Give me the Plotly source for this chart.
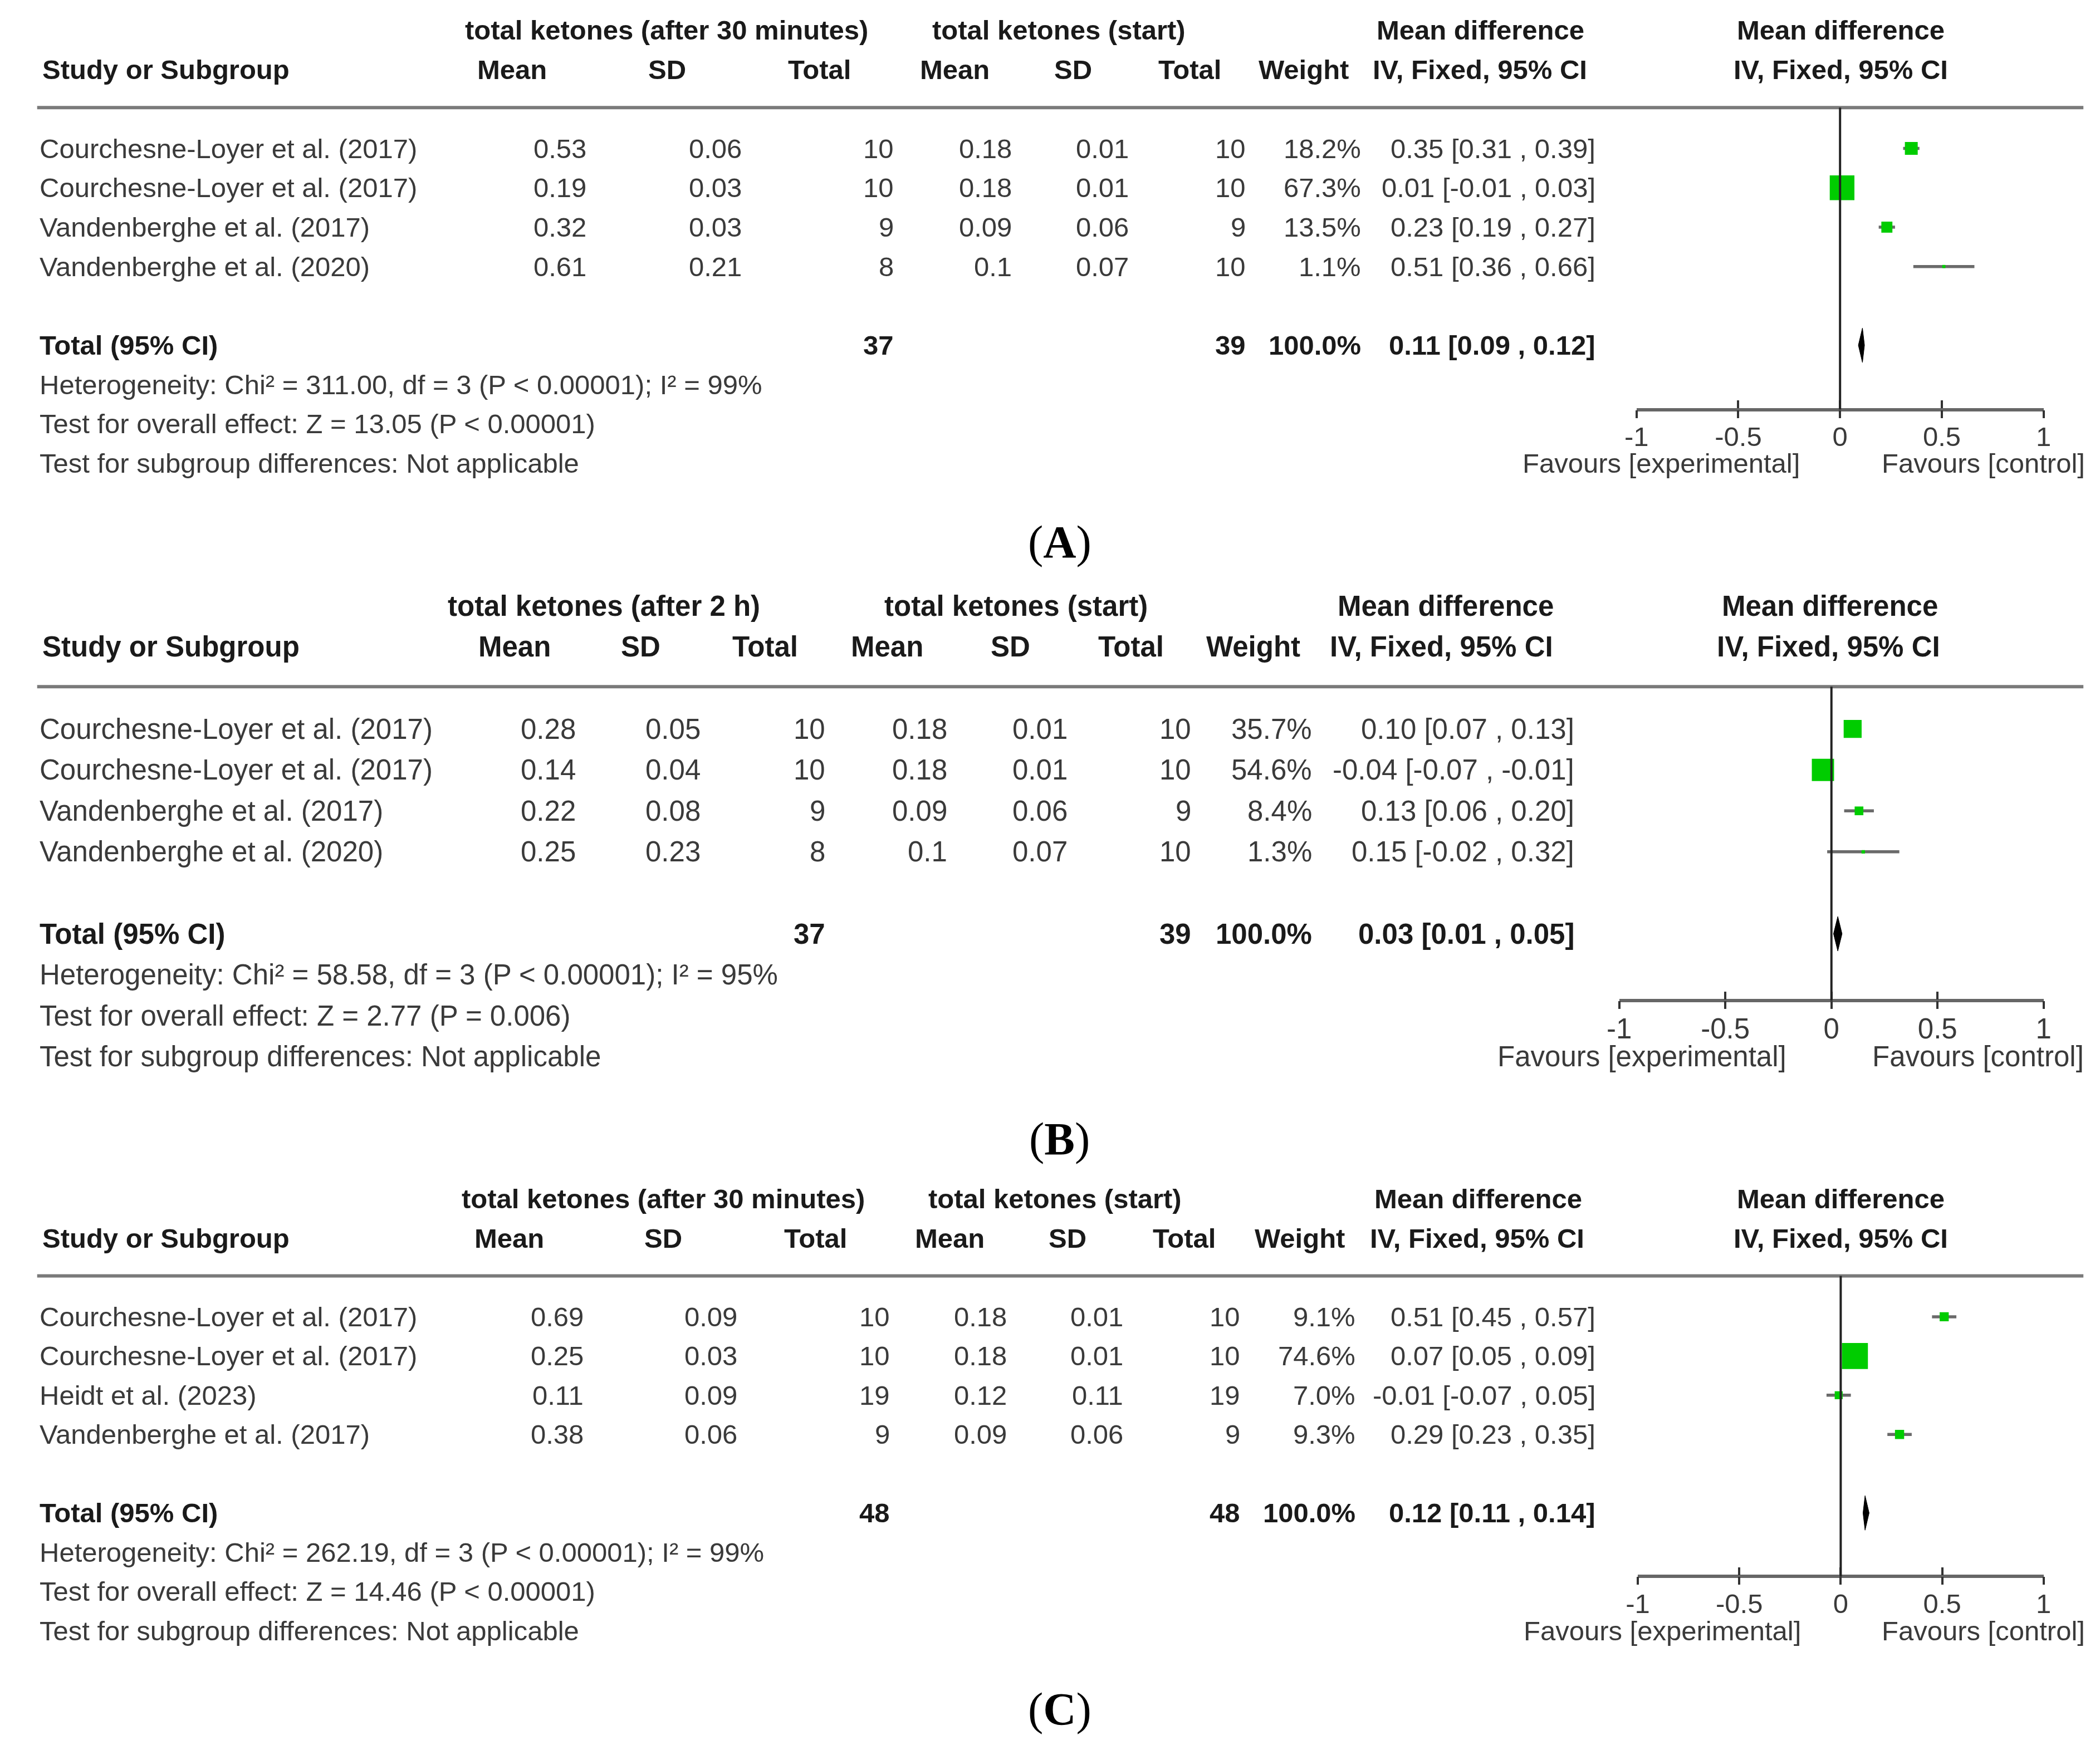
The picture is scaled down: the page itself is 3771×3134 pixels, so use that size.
import plotly.graph_objects as go

W, H = 3771, 3134
S = W / 1568.0          # reference measured on a 1568-px-wide view
FONT = "Liberation Sans, Arial, sans-serif"
TXT = "#3a3a3a"
BOLD = "#1a1a1a"

# ---------------- data ----------------
A_head = ["total ketones (after 30 minutes)", "total ketones (start)"]
A_studies = ["Courchesne-Loyer et al. (2017)", "Courchesne-Loyer et al. (2017)",
             "Vandenberghe et al. (2017)", "Vandenberghe et al. (2020)"]
A_exp_mean = [0.53, 0.19, 0.32, 0.61]
A_exp_sd = [0.06, 0.03, 0.03, 0.21]
A_exp_n = [10, 10, 9, 8]
A_ctl_mean = [0.18, 0.18, 0.09, 0.1]
A_ctl_sd = [0.01, 0.01, 0.06, 0.07]
A_ctl_n = [10, 10, 9, 10]
A_weight = [18.2, 67.3, 13.5, 1.1]
A_md = [0.35, 0.01, 0.23, 0.51]
A_lo = [0.31, -0.01, 0.19, 0.36]
A_hi = [0.39, 0.03, 0.27, 0.66]
A_total = [37, 39, 100.0, 0.11, 0.09, 0.12]
A_notes = ["Heterogeneity: Chi\u00b2 = 311.00, df = 3 (P < 0.00001); I\u00b2 = 99%",
           "Test for overall effect: Z = 13.05 (P < 0.00001)",
           "Test for subgroup differences: Not applicable"]

B_head = ["total ketones (after 2 h)", "total ketones (start)"]
B_studies = ["Courchesne-Loyer et al. (2017)", "Courchesne-Loyer et al. (2017)",
             "Vandenberghe et al. (2017)", "Vandenberghe et al. (2020)"]
B_exp_mean = [0.28, 0.14, 0.22, 0.25]
B_exp_sd = [0.05, 0.04, 0.08, 0.23]
B_exp_n = [10, 10, 9, 8]
B_ctl_mean = [0.18, 0.18, 0.09, 0.1]
B_ctl_sd = [0.01, 0.01, 0.06, 0.07]
B_ctl_n = [10, 10, 9, 10]
B_weight = [35.7, 54.6, 8.4, 1.3]
B_md = [0.10, -0.04, 0.13, 0.15]
B_lo = [0.07, -0.07, 0.06, -0.02]
B_hi = [0.13, -0.01, 0.20, 0.32]
B_total = [37, 39, 100.0, 0.03, 0.01, 0.05]
B_notes = ["Heterogeneity: Chi\u00b2 = 58.58, df = 3 (P < 0.00001); I\u00b2 = 95%",
           "Test for overall effect: Z = 2.77 (P = 0.006)",
           "Test for subgroup differences: Not applicable"]

C_head = ["total ketones (after 30 minutes)", "total ketones (start)"]
C_studies = ["Courchesne-Loyer et al. (2017)", "Courchesne-Loyer et al. (2017)",
             "Heidt et al. (2023)", "Vandenberghe et al. (2017)"]
C_exp_mean = [0.69, 0.25, 0.11, 0.38]
C_exp_sd = [0.09, 0.03, 0.09, 0.06]
C_exp_n = [10, 10, 19, 9]
C_ctl_mean = [0.18, 0.18, 0.12, 0.09]
C_ctl_sd = [0.01, 0.01, 0.11, 0.06]
C_ctl_n = [10, 10, 19, 9]
C_weight = [9.1, 74.6, 7.0, 9.3]
C_md = [0.51, 0.07, -0.01, 0.29]
C_lo = [0.45, 0.05, -0.07, 0.23]
C_hi = [0.57, 0.09, 0.05, 0.35]
C_total = [48, 48, 100.0, 0.12, 0.11, 0.14]
C_notes = ["Heterogeneity: Chi\u00b2 = 262.19, df = 3 (P < 0.00001); I\u00b2 = 99%",
           "Test for overall effect: Z = 14.46 (P < 0.00001)",
           "Test for subgroup differences: Not applicable"]

tick_vals = [-1, -0.5, 0, 0.5, 1]
tick_text = ["-1", "-0.5", "0", "0.5", "1"]
favours = ["Favours [experimental]", "Favours [control]"]
labels = ["A", "B", "C"]

# ---------------- layout geometry (px in 1568-wide view) ----------------
geoms = [
    dict(row0=107.5, sp=29.4, line=77, axis=302.5, fx=(1221, 1528), fs=49,
         vals=[430, 547, 662, 751, 839, 927, 1014, 1191],
         h2=[373, 490, 605, 707, 796, 884, 970, 1103, 1375],
         h1=[489.5, 785.5, 1103.5, 1375], fav=(1345, 1405), lab=786),
    dict(row0=541, sp=30.6, line=509.5, axis=744, fx=(1208, 1528), fs=51,
         vals=[422, 516, 610, 702, 793, 886, 977, 1175],
         h2=[375, 470, 564, 656, 749, 840, 932, 1074, 1366],
         h1=[442.5, 753, 1077, 1367], fav=(1335, 1398), lab=786),
    dict(row0=980, sp=29.3, line=949.5, axis=1174, fx=(1222, 1528), fs=49,
         vals=[428, 544, 659, 747, 835, 923, 1010, 1191],
         h2=[371, 487, 602, 703, 792, 880, 967, 1101, 1375],
         h1=[487, 782.5, 1101.5, 1375], fav=(1346, 1405), lab=786),
]
ROW_TOP, ROW_BOT = -3.6, 10.6

panels = [
    (A_head, A_studies, A_exp_mean, A_exp_sd, A_exp_n, A_ctl_mean, A_ctl_sd, A_ctl_n,
     A_weight, A_md, A_lo, A_hi, A_total, A_notes),
    (B_head, B_studies, B_exp_mean, B_exp_sd, B_exp_n, B_ctl_mean, B_ctl_sd, B_ctl_n,
     B_weight, B_md, B_lo, B_hi, B_total, B_notes),
    (C_head, C_studies, C_exp_mean, C_exp_sd, C_exp_n, C_ctl_mean, C_ctl_sd, C_ctl_n,
     C_weight, C_md, C_lo, C_hi, C_total, C_notes),
]


def num(v):
    return f"{v:g}"


def ci(m, l, h):
    return f"{m:.2f} [{l:.2f} , {h:.2f}]"


fig = go.Figure()
annotations = []
shapes = []
layout = {}

for i, (p, g) in enumerate(zip(panels, geoms)):
    (head, studies, em, esd, en, cm, csd, cn, wt, md, lo, hi, tot, notes) = p
    xa = "x" if i == 0 else f"x{2 * i + 1}"
    xo = f"x{2 * i + 2}"
    ya = "y" if i == 0 else f"y{i + 1}"
    xa_key = "xaxis" if i == 0 else f"xaxis{2 * i + 1}"
    xo_key = f"xaxis{2 * i + 2}"
    ya_key = "yaxis" if i == 0 else f"yaxis{i + 1}"
    rowpx = g["sp"] * S
    r0 = g["row0"] * S
    line_row = (g["line"] * S - r0) / rowpx
    axis_row = (g["axis"] * S - r0) / rowpx
    fs = g["fs"]
    top_px = r0 + ROW_TOP * rowpx
    bot_px = r0 + ROW_BOT * rowpx
    ydom = [1 - bot_px / H, 1 - top_px / H]
    xdom = [g["fx"][0] * S / W, g["fx"][1] * S / W]
    axis_pos = 1 - g["axis"] * S / H

    def A(text, xpx, row, anchor, bold=False, size=None, color=None, family=FONT):
        annotations.append(dict(
            text=(f"<b>{text}</b>" if bold else text), x=xpx * S / W, xref="paper",
            y=row, yref=ya, xanchor=anchor, yanchor="middle", showarrow=False,
            font=dict(family=family, size=size or fs, color=color or (BOLD if bold else TXT))))

    # header rows
    A(head[0], g["h1"][0], -3, "center", bold=True)
    A(head[1], g["h1"][1], -3, "center", bold=True)
    A("Mean difference", g["h1"][2], -3, "center", bold=True)
    A("Mean difference", g["h1"][3], -3, "center", bold=True)
    A("Study or Subgroup", 18, -2, "left", bold=True)
    h2t = ["Mean", "SD", "Total", "Mean", "SD", "Total", "Weight",
           "IV, Fixed, 95% CI", "IV, Fixed, 95% CI"]
    for t, xc in zip(h2t, g["h2"]):
        A(t, xc, -2, "center", bold=True)

    # study rows
    for r in range(len(studies)):
        A(studies[r], 16, r, "left")
        cells = [num(em[r]), num(esd[r]), str(en[r]), num(cm[r]), num(csd[r]),
                 str(cn[r]), f"{wt[r]:.1f}%", ci(md[r], lo[r], hi[r])]
        for t, xr in zip(cells, g["vals"]):
            A(t, xr, r, "right")

    # total row
    tr = len(studies) + 1
    A("Total (95% CI)", 16, tr, "left", bold=True)
    A(str(tot[0]), g["vals"][2], tr, "right", bold=True)
    A(str(tot[1]), g["vals"][5], tr, "right", bold=True)
    A(f"{tot[2]:.1f}%", g["vals"][6], tr, "right", bold=True)
    A(ci(tot[3], tot[4], tot[5]), g["vals"][7], tr, "right", bold=True)

    for k, t in enumerate(notes):
        A(t, 16, tr + 1 + k, "left")

    A(favours[0], g["fav"][0], tr + 3, "right")
    A(favours[1], g["fav"][1], tr + 3, "left")

    # panel label
    A(f"(<b>{labels[i]}</b>)", g["lab"], tr + 5, "center", size=82, color="#000000",
      family="Liberation Serif, Times New Roman, serif")

    # header rule
    shapes.append(dict(type="line", xref="paper", yref=ya,
                       x0=15 * S / W, x1=1558 * S / W, y0=line_row, y1=line_row,
                       line=dict(color="#7a7a7a", width=6)))
    # line of no effect (from header rule down to the scale)
    shapes.append(dict(type="line", xref=xa, yref=ya, x0=0, x1=0,
                       y0=line_row, y1=axis_row, layer="above",
                       line=dict(color="#222222", width=4)))

    # confidence intervals (under the squares)
    cx, cy = [], []
    for r in range(len(studies)):
        cx += [lo[r], hi[r], None]
        cy += [r, r, None]
    fig.add_trace(go.Scatter(x=cx, y=cy, mode="lines", xaxis=xa, yaxis=ya,
                             line=dict(color="#6a6a6a", width=5.5),
                             showlegend=False, hoverinfo="skip"))
    fig.add_trace(go.Scatter(
        x=md, y=list(range(len(studies))), mode="markers", xaxis=xa, yaxis=ya,
        showlegend=False, hoverinfo="skip",
        marker=dict(symbol="square", color="#00cc00", opacity=1,
                    size=[5.4 * w ** 0.5 for w in wt], line=dict(width=0))))
    dh = 31 / rowpx
    fig.add_trace(go.Scatter(
        x=[tot[4], tot[3], tot[5], tot[3], tot[4]],
        y=[tr, tr - dh, tr, tr + dh, tr], mode="lines", fill="toself",
        fillcolor="#000000", line=dict(color="#000000", width=1),
        xaxis=xa, yaxis=ya, showlegend=False, hoverinfo="skip"))
    fig.add_trace(go.Scatter(x=[], y=[], xaxis=xo, yaxis=ya, showlegend=False,
                             hoverinfo="skip"))

    axcommon = dict(range=[-1, 1], domain=xdom, anchor="free", position=axis_pos,
                    tickvals=tick_vals, showgrid=False, zeroline=False,
                    tickwidth=4, tickcolor="#333333", ticklen=14, fixedrange=True)
    layout[xa_key] = dict(**axcommon, ticktext=tick_text, ticks="inside",
                          showline=True, linecolor="#666666", linewidth=5.5,
                          ticklabelstandoff=4,
                          tickfont=dict(family=FONT, size=fs, color=TXT))
    layout[xo_key] = dict(**axcommon, overlaying=xa, side="bottom", ticks="outside",
                          showticklabels=False, showline=False)
    layout[ya_key] = dict(range=[ROW_BOT, ROW_TOP], domain=ydom, anchor=xa,
                          visible=False, showgrid=False, zeroline=False, fixedrange=True)

fig.update_layout(
    width=W, height=H, margin=dict(l=0, r=0, t=0, b=0),
    paper_bgcolor="white", plot_bgcolor="white",
    annotations=annotations, shapes=shapes, showlegend=False, **layout)

fig.write_html("out.html")
